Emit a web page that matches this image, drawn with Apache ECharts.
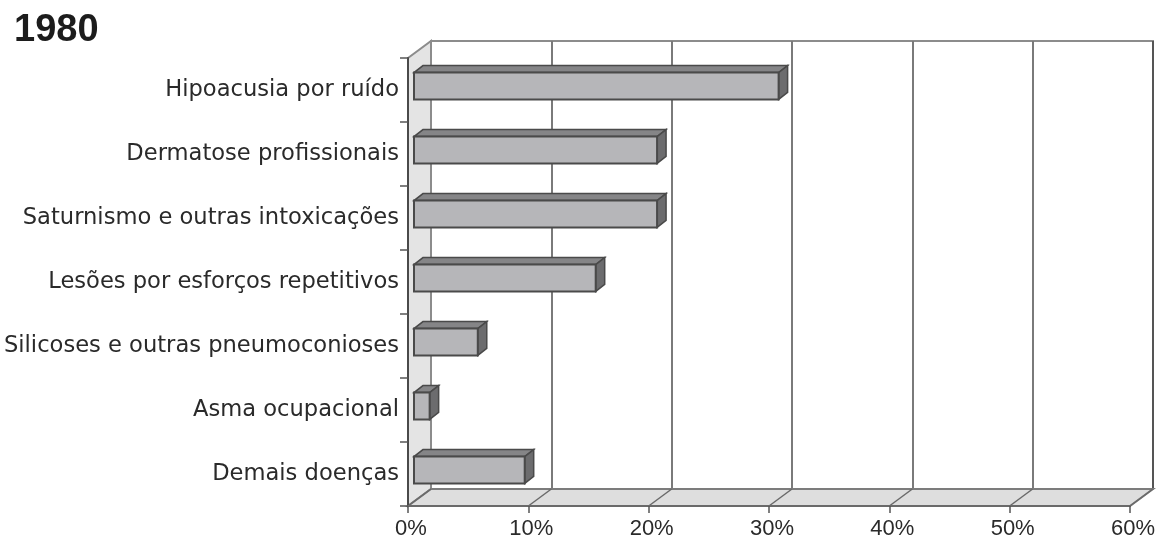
<!DOCTYPE html>
<html>
<head>
<meta charset="utf-8">
<script src="https://cdn.jsdelivr.net/npm/echarts@6/dist/echarts.min.js"></script>
<style>
  html, body { margin: 0; padding: 0; background: #fff; }
  #chart { width: 1172px; height: 540px; }
</style>
</head>
<body>
<div id="chart"></div>
<script>
// Occupational diseases, share of cases in 1980
const categories = [
  'Hipoacusia por ruído',
  'Dermatose profissionais',
  'Saturnismo e outras intoxicações',
  'Lesões por esforços repetitivos',
  'Silicoses e outras pneumoconioses',
  'Asma ocupacional',
  'Demais doenças'
];
const values = [30.3, 20.2, 20.2, 15.1, 5.3, 1.3, 9.2];
const xTicks = [0, 10, 20, 30, 40, 50, 60];
const titleText = '1980';

// pseudo-3D depth of the plot box and of the bars (pixels)
const DEPTH = [23, -17];
const BAR_FRONT = [6, -4];
const BAR_BACK = [15, -11];

const chart = echarts.init(document.getElementById('chart'), null, { renderer: 'canvas' });

const plotLeft = 408, plotTop = 58, plotW = 722, plotH = 448;

function wallsItem(params, api) {
  const cs = params.coordSys;
  const x = cs.x, y = cs.y, w = cs.width, h = cs.height;
  const dx = DEPTH[0], dy = DEPTH[1];
  return {
    type: 'group',
    children: [
      { type: 'polygon', shape: { points: [[x, y], [x + dx, y + dy], [x + dx, y + h + dy], [x, y + h]] },
        style: { fill: '#e4e4e4', stroke: '#8c8c8c', lineWidth: 2 } },
      { type: 'polygon', shape: { points: [[x, y + h], [x + w, y + h], [x + w + dx, y + h + dy], [x + dx, y + h + dy]] },
        style: { fill: '#dedede', stroke: '#7c7c7c', lineWidth: 2 } }
    ]
  };
}

function floorLineItem(params, api) {
  const cs = params.coordSys;
  const px = api.coord([api.value(0), 0])[0];
  const yb = cs.y + cs.height;
  return {
    type: 'line',
    shape: { x1: px, y1: yb, x2: px + DEPTH[0], y2: yb + DEPTH[1] },
    style: { stroke: '#6a6a6a', lineWidth: 1.5 }
  };
}

function barItem(params, api) {
  const v = api.value(0);
  const idx = api.value(1);
  const p0 = api.coord([0, idx]);
  const p1 = api.coord([v, idx]);
  const band = api.size([0, 1])[1];
  const bh = band * 0.42;
  const fx0 = p0[0] + BAR_FRONT[0], fx1 = p1[0] + BAR_FRONT[0];
  const top = p0[1] + BAR_FRONT[1] - bh / 2, bot = top + bh;
  const ddx = BAR_BACK[0] - BAR_FRONT[0], ddy = BAR_BACK[1] - BAR_FRONT[1];
  const edge = '#4a4a4a';
  return {
    type: 'group',
    children: [
      { type: 'polygon', shape: { points: [[fx0, top], [fx1, top], [fx1 + ddx, top + ddy], [fx0 + ddx, top + ddy]] },
        style: { fill: '#858587', stroke: edge, lineWidth: 1.5 } },
      { type: 'polygon', shape: { points: [[fx1, top], [fx1 + ddx, top + ddy], [fx1 + ddx, bot + ddy], [fx1, bot]] },
        style: { fill: '#6c6c6e', stroke: edge, lineWidth: 1.5 } },
      { type: 'rect', shape: { x: fx0, y: top, width: fx1 - fx0, height: bh },
        style: { fill: '#b6b6b9', stroke: edge, lineWidth: 2 } }
    ]
  };
}

const option = {
  animation: false,
  backgroundColor: '#ffffff',
  title: {
    text: titleText,
    left: 9, top: 7,
    textStyle: { fontFamily: 'Liberation Sans', fontWeight: 'bold', fontSize: 38, color: '#1c1c1c' }
  },
  grid: [
    { left: plotLeft, top: plotTop, width: plotW, height: plotH, containLabel: false, outerBoundsMode: 'none' },
    { left: plotLeft + DEPTH[0], top: plotTop + DEPTH[1], width: plotW, height: plotH, containLabel: false,
      outerBoundsMode: 'none',
      show: true, borderColor: '#8c8c8c', borderWidth: 2, backgroundColor: 'transparent' }
  ],
  xAxis: [
    {
      type: 'value', gridIndex: 0, min: 0, max: 60, interval: 10, z: 5,
      axisLine: { show: true, lineStyle: { color: '#6a6a6a', width: 2 } },
      axisTick: { show: true, length: 7, lineStyle: { color: '#555', width: 1.5 } },
      axisLabel: { formatter: '{value}%', margin: 12, padding: [0, 0, 0, 6], fontFamily: 'Liberation Sans', fontSize: 22, color: '#2a2a2a' },
      splitLine: { show: false }
    },
    {
      type: 'value', gridIndex: 1, min: 0, max: 60, interval: 10,
      axisLine: { show: false }, axisTick: { show: false }, axisLabel: { show: false },
      splitLine: { show: true, lineStyle: { color: ['#8c8c8c', '#7a7a7a', '#7a7a7a', '#7a7a7a', '#7a7a7a', '#7a7a7a', '#555555'], width: 2 } }
    }
  ],
  yAxis: [
    {
      type: 'category', gridIndex: 0, data: categories, inverse: true, z: 5,
      axisLine: { show: true, lineStyle: { color: '#4a4a4a', width: 2 } },
      axisTick: { show: true, length: 8, lineStyle: { color: '#555', width: 1.5 } },
      axisLabel: { margin: 9, fontFamily: 'DejaVu Sans', fontSize: 22.6, color: '#2a2a2a' },
      splitLine: { show: false }
    },
    {
      type: 'category', gridIndex: 1, data: categories, inverse: true,
      axisLine: { show: false }, axisTick: { show: false }, axisLabel: { show: false }, splitLine: { show: false }
    }
  ],
  series: [
    {
      type: 'custom', name: 'walls', xAxisIndex: 0, yAxisIndex: 0, z: 1, silent: true,
      renderItem: wallsItem, data: [[0, 0]]
    },
    {
      type: 'custom', name: 'floor', xAxisIndex: 0, yAxisIndex: 0, z: 2, silent: true,
      renderItem: floorLineItem, data: xTicks.map(t => [t, 0])
    },
    {
      type: 'custom', name: '1980', xAxisIndex: 0, yAxisIndex: 0, z: 3,
      renderItem: barItem, data: values.map((v, i) => [v, i])
    }
  ]
};

chart.setOption(option);
</script>
</body>
</html>
